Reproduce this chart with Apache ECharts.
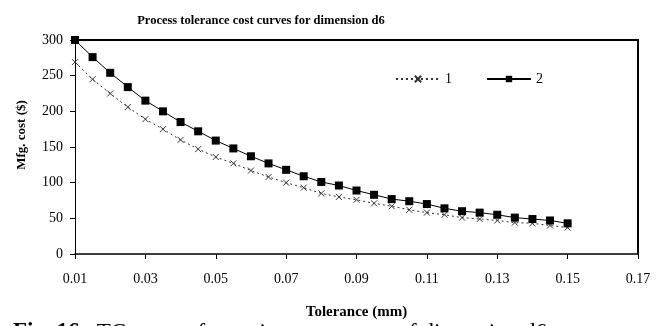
<!DOCTYPE html>
<html>
<head>
<meta charset="utf-8">
<script src="https://cdn.jsdelivr.net/npm/echarts@6/dist/echarts.min.js"></script>
<style>html,body{margin:0;padding:0;background:#fff}#c{width:664px;height:326px}</style>
</head>
<body>
<div id="c"></div>
<script>
var tolerance = [0.01,0.015,0.02,0.025,0.03,0.035,0.04,0.045,0.05,0.055,0.06,0.065,0.07,0.075,0.08,0.085,0.09,0.095,0.1,0.105,0.11,0.115,0.12,0.125,0.13,0.135,0.14,0.145,0.15];
var cost1 = [269,245,225,206,189,175,160,147,136,127,117,108,100,93,85,80,76,71,67,62,58,55,51,49,47,44,43,40,37];
var cost2 = [300,276,254,234,215,200,185,172,159,148,137,127,118,109,101,96,89,83,77,74,70,64,60,58,55,51,49,47,43];
var seriesNames = ['1','2'];
var titleText = 'Process tolerance cost curves for dimension d6';
var xName = 'Tolerance (mm)';
var yName = 'Mfg. cost ($)';
var caption = 'TC curves for various processes of dimension d6';

function pairs(xs, ys){ return xs.map(function(x,i){ return [x, ys[i]]; }); }
var F = 'Liberation Serif';
var chart = echarts.init(document.getElementById('c'));
chart.setOption({
  animation:false,
  backgroundColor:'#fff',
  title:{ text:titleText, left:256, top:9, textAlign:'center',
    textStyle:{fontFamily:F, fontSize:12.5, fontWeight:'bold', color:'#000'} },
  legend:{ left:390, top:67, itemWidth:44, itemHeight:8, itemGap:34,
    textStyle:{fontFamily:F, fontSize:14, color:'#000'},
    data:seriesNames },
  grid:{ left:75, right:26, top:40, bottom:72, show:false, containLabel:false, outerBoundsMode:'none' },
  xAxis:[{ type:'value', min:0.01, max:0.17, interval:0.02, position:'bottom',
    name:xName, nameLocation:'middle', nameGap:51,
    nameTextStyle:{fontFamily:F, fontSize:15, fontWeight:'bold', color:'#000'},
    axisLine:{onZero:false, lineStyle:{color:'#000', width:1.5}},
    axisTick:{show:true, inside:false, length:5, lineStyle:{color:'#000'}},
    axisLabel:{fontFamily:F, fontSize:14, color:'#000', margin:18,
      formatter:function(v){ return v.toFixed(2); } },
    splitLine:{show:false} },
   { type:'value', min:0.01, max:0.17, position:'top',
    axisLine:{show:true, onZero:false, lineStyle:{color:'#000', width:2}},
    axisTick:{show:false}, axisLabel:{show:false}, splitLine:{show:false} }],
  yAxis:[{ type:'value', min:0, max:300, interval:50, position:'left',
    axisLine:{show:true, onZero:false, lineStyle:{color:'#000', width:1}},
    axisTick:{show:true, inside:false, length:5, lineStyle:{color:'#000'}},
    axisLabel:{fontFamily:F, fontSize:14, color:'#000', margin:12},
    splitLine:{show:false} },
   { type:'value', min:0, max:300, position:'right',
    axisLine:{show:true, onZero:false, lineStyle:{color:'#000', width:2}},
    axisTick:{show:false}, axisLabel:{show:false}, splitLine:{show:false} }],
  series:[
    { name:seriesNames[0], type:'line', data:pairs(tolerance,cost1), clip:false,
      symbol:'path://M0,0L10,10M10,0L0,10', symbolSize:6,
      itemStyle:{color:'none', borderColor:'#333', borderWidth:1},
      lineStyle:{color:'#333', width:1, type:[2,3]} },
    { name:seriesNames[1], type:'line', data:pairs(tolerance,cost2), clip:false,
      symbol:'rect', symbolSize:8,
      itemStyle:{color:'#000'},
      lineStyle:{color:'#000', width:1} }
  ],
  graphic:[
    { type:'text', x:22, y:135, rotation:Math.PI/2,
      style:{ text:yName, fontFamily:F, fontSize:13, fontWeight:'bold', fill:'#000',
        align:'center', verticalAlign:'middle' } },
    { type:'text', left:13, top:321,
      style:{ text:'{b|Fig. 16.}  ' + caption,
        fontFamily:F, fontSize:23, fill:'#000',
        rich:{ b:{fontFamily:F, fontSize:23, fontWeight:'bold', fill:'#000'} } } }]
});
</script>
</body>
</html>
